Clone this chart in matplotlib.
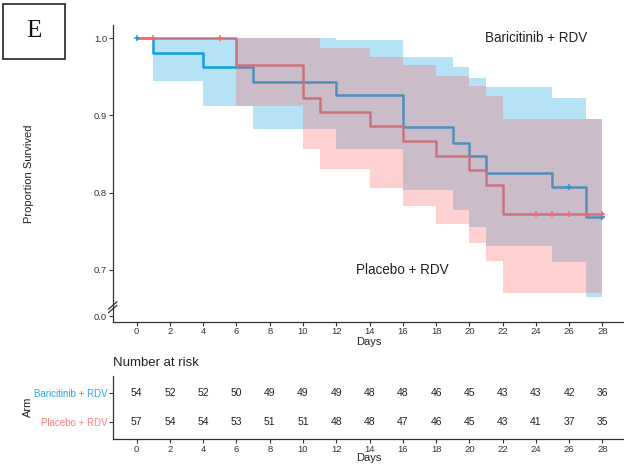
import matplotlib
matplotlib.use("Agg")
import matplotlib.pyplot as plt
from matplotlib.patches import Rectangle

plt.rcParams['font.family'] = ['Liberation Sans', 'DejaVu Sans']

# Kaplan-Meier estimates (step = post)
bar_t = [0, 1, 4, 7, 12, 16, 19, 20, 21, 25, 27, 28]
bar_s = [1.0, 0.981, 0.963, 0.944, 0.926, 0.885, 0.865, 0.847, 0.826, 0.808, 0.768, 0.768]
bar_hi = [1.0, 1.0, 1.0, 1.0, 0.998, 0.976, 0.963, 0.949, 0.937, 0.923, 0.895, 0.895]
bar_lo = [1.0, 0.945, 0.912, 0.883, 0.856, 0.804, 0.778, 0.755, 0.731, 0.710, 0.665, 0.665]
bar_cens_t = [0, 26, 28]
bar_cens_s = [1.0, 0.808, 0.768]

pla_t = [0, 6, 10, 11, 14, 16, 18, 20, 21, 22, 28]
pla_s = [1.0, 0.965, 0.923, 0.905, 0.886, 0.867, 0.848, 0.829, 0.810, 0.773, 0.773]
pla_hi = [1.0, 1.0, 1.0, 0.987, 0.976, 0.965, 0.951, 0.938, 0.925, 0.895, 0.895]
pla_lo = [1.0, 0.912, 0.857, 0.831, 0.806, 0.783, 0.759, 0.735, 0.712, 0.670, 0.670]
pla_cens_t = [1, 5, 24, 25, 26, 27, 28]
pla_cens_s = [1.0, 1.0, 0.773, 0.773, 0.773, 0.773, 0.773]

# number at risk table
risk_days = [0, 2, 4, 6, 8, 10, 12, 14, 16, 18, 20, 22, 24, 26, 28]
bar_risk = [54, 52, 52, 50, 49, 49, 49, 48, 48, 46, 45, 43, 43, 42, 36]
pla_risk = [57, 54, 54, 53, 51, 51, 48, 48, 47, 46, 45, 43, 41, 37, 35]
arms = ['Placebo + RDV', 'Baricitinib + RDV']

blue = '#0AA0DE'
red = '#FF6666'
label_blue = '#2AA8E2'
label_red = '#FF7F7F'
axis_col = '#333333'

W, H = 624, 465
fig = plt.figure(figsize=(W / 100, H / 100), dpi=100)


def fx(px):
    return px / W


def fy(py):
    return 1 - py / H


# ---- main survival panel ----
ax = fig.add_axes([fx(112.7), fy(321.7), fx(624 - 112.7), (321.7 - 25) / H])
ax.step(bar_t, bar_s, where='post', color=blue, lw=1.8, zorder=1)
ax.step(pla_t, pla_s, where='post', color=red, lw=1.8, zorder=1)
ax.fill_between(bar_t, bar_lo, bar_hi, step='post', color=blue, alpha=0.3, lw=0, zorder=2)
ax.fill_between(pla_t, pla_lo, pla_hi, step='post', color=red, alpha=0.3, lw=0, zorder=3)
ax.plot(bar_cens_t, bar_cens_s, ls='none', marker='+', ms=5, mew=1.1, color=blue, zorder=4)
ax.plot(pla_cens_t, pla_cens_s, ls='none', marker='+', ms=5, mew=1.1, color=red, zorder=4)

ax.text(24, 1.0, 'Baricitinib + RDV', ha='center', va='center', fontsize=9.75, color='#222222')
ax.text(16, 0.70, 'Placebo + RDV', ha='center', va='center', fontsize=9.75, color='#222222')

y_zero = 0.6397  # where the broken axis shows 0.0
ax.set_xlim(-1.443, 29.3)
ax.set_ylim(0.6329, 1.0172)
ax.set_xticks(risk_days)
ax.set_yticks([y_zero, 0.7, 0.8, 0.9, 1.0])
ax.set_yticklabels(['0.0', '0.7', '0.8', '0.9', '1.0'])
for s in ['top', 'right']:
    ax.spines[s].set_visible(False)
for s in ['left', 'bottom']:
    ax.spines[s].set_color(axis_col)
    ax.spines[s].set_linewidth(0.9)
ax.tick_params(length=3, width=0.8, color=axis_col, labelsize=6.8, labelcolor='#333340', pad=1)
ax.set_xlabel('Days', fontsize=8, color='#222222')
ax.xaxis.set_label_coords(0.5, -0.052)
ax.set_ylabel('Proportion Survived', fontsize=8, color='#222222')
ax.yaxis.set_label_coords(-0.153, 0.5)

# axis break marks
brk = (0.6516 - 0.6329) / (1.0172 - 0.6329)
for dy in (-0.006, 0.006):
    ax.plot([-0.008, 0.008], [brk + dy - 0.012, brk + dy + 0.012], transform=ax.transAxes,
            color=axis_col, lw=0.9, clip_on=False, zorder=5)

# ---- number at risk table ----
tx = fig.add_axes([fx(112.7), fy(439), fx(624 - 112.7), (439 - 376) / H])
for d, b, p in zip(risk_days, bar_risk, pla_risk):
    tx.text(d, 2, str(b), ha='center', va='center', fontsize=7.5, color='#222222')
    tx.text(d, 1, str(p), ha='center', va='center', fontsize=7.5, color='#222222')
tx.set_xlim(-1.443, 29.3)
tx.set_ylim(0.4, 2.6)
tx.set_xticks(risk_days)
tx.set_yticks([1, 2])
tx.set_yticklabels(arms)
for lab, c in zip(tx.get_yticklabels(), [label_red, label_blue]):
    lab.set_color(c)
for s in ['top', 'right']:
    tx.spines[s].set_visible(False)
for s in ['left', 'bottom']:
    tx.spines[s].set_color(axis_col)
    tx.spines[s].set_linewidth(0.9)
tx.tick_params(axis='x', length=3, width=0.8, color=axis_col, labelsize=6.8, labelcolor='#333340', pad=1)
tx.tick_params(axis='y', length=3, width=0.8, color=axis_col, labelsize=7, pad=1)
tx.set_xlabel('Days', fontsize=8, color='#222222')
tx.xaxis.set_label_coords(0.5, -0.22)
tx.set_ylabel('Arm', fontsize=8, color='#222222')
tx.yaxis.set_label_coords(-0.155, 0.513)
fig.text(fx(113), fy(363), 'Number at risk', ha='left', va='center', fontsize=9.5, color='#222222')

# panel letter
fig.patches.append(Rectangle((fx(3), fy(59)), fx(62), 55 / H, transform=fig.transFigure,
                             fill=False, ec='#222222', lw=1.2))
fig.text(fx(34), fy(31), 'E', ha='center', va='center', fontsize=18,
         family=['Liberation Serif', 'DejaVu Serif'], color='#111111')

fig.savefig('out.png', dpi=100)
